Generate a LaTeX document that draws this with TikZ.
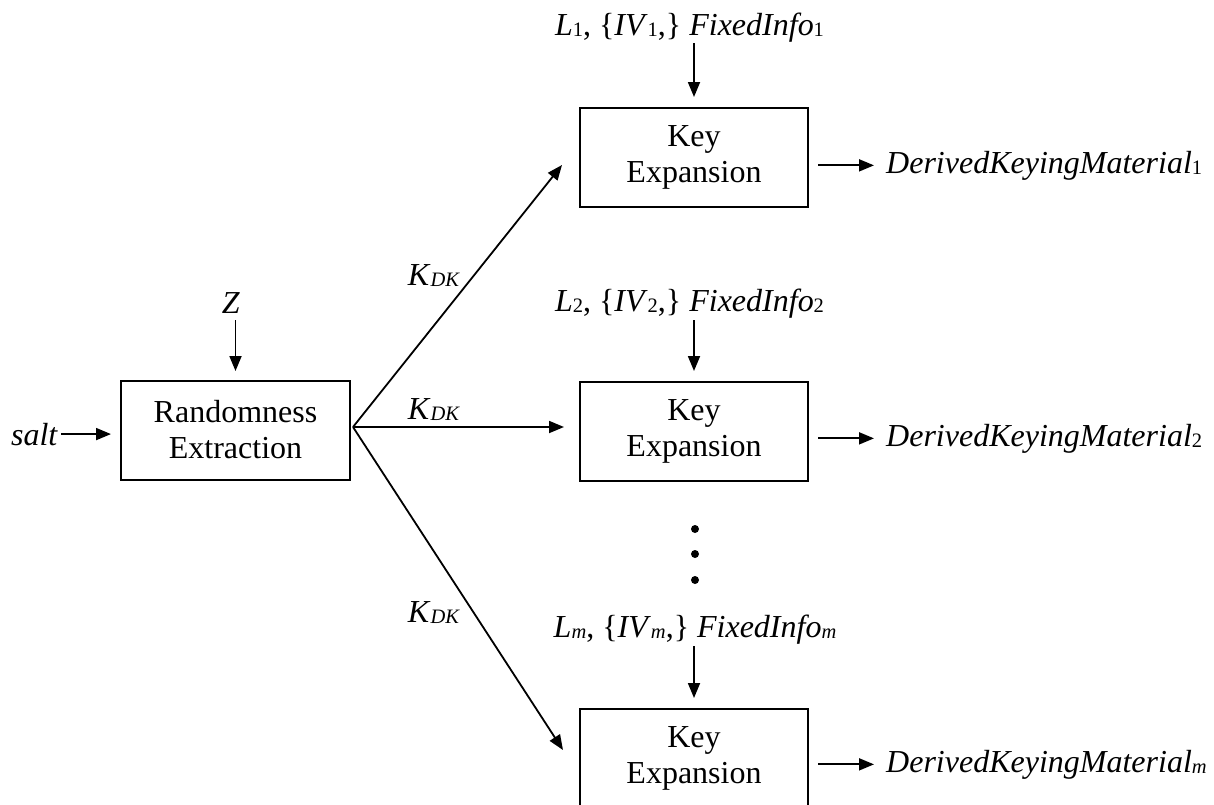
\documentclass[tikz,border=0pt]{standalone}
\usepackage{fontspec}
\setmainfont{Liberation Serif}
\usetikzlibrary{arrows.meta}
\newcommand{\ssub}[1]{{\fontsize{20.5}{20.5}\selectfont\raisebox{-1.5pt}{#1}}}
\begin{document}
\begin{tikzpicture}[x=1pt,y=-1pt,
  every node/.style={font=\fontsize{32}{36}\selectfont, inner sep=0pt},
  procbox/.style={draw, line width=2pt, minimum width=228pt, minimum height=99pt, align=center},
  arr/.style={line width=1.8pt, -{Triangle[length=15pt,width=12pt]}},
  lbl/.style={anchor=base}]
\useasboundingbox (0,0) rectangle (1214,804);
\clip (0,0) rectangle (1214,804);
\fill[white] (0,0) rectangle (1214,804);

% boxes
\node[procbox, minimum width=229pt] (re) at (235.5,430) {Randomness\\Extraction};
\node[procbox] (k1) at (694,157.5) {Key\\Expansion};
\node[procbox] (k2) at (694,431) {Key\\Expansion};
\node[procbox] (km) at (694,758.5) {Key\\Expansion};

% input labels
\node[lbl] (z) at (231,313) {\textit{Z}};
\node[lbl] (salt) at (34.5,445) {\textit{salt}};
\node[lbl] (t1) at (689.5,35) {\textit{L}\ssub{1}, \{\textit{IV}\ssub{1},\} \textit{FixedInfo}\ssub{1}};
\node[lbl] (t2) at (689.5,311) {\textit{L}\ssub{2}, \{\textit{IV}\ssub{2},\} \textit{FixedInfo}\ssub{2}};
\node[lbl] (tm) at (695,637) {\textit{L}\ssub{\textit{m}}, \{\textit{IV}\ssub{\textit{m}},\} \textit{FixedInfo}\ssub{\textit{m}}};

% outputs
\node[anchor=base west] (o1) at (886,173) {\textit{DerivedKeyingMaterial}\ssub{1}};
\node[anchor=base west] (o2) at (886,446) {\textit{DerivedKeyingMaterial}\ssub{2}};
\node[anchor=base west] (om) at (886,772) {\textit{DerivedKeyingMaterial}\ssub{\textit{m}}};

% K_DK labels
\node[lbl] (kd1) at (434,285) {\textit{K}\ssub{\textit{DK}}};
\node[lbl] (kd2) at (434,419) {\textit{K}\ssub{\textit{DK}}};
\node[lbl] (kd3) at (434,622) {\textit{K}\ssub{\textit{DK}}};

% fork and arrow ends
\coordinate (fork) at (353,427);
\coordinate (e1) at ([xshift=-17pt,yshift=-7.5pt]k1.west);
\coordinate (em) at ([xshift=-16pt,yshift=8.5pt]km.west);

% connectors
\draw[arr, shorten <=7pt, shorten >=8.5pt] (re.north |- z.base) -- (re.north);
\draw[arr, shorten <=3pt, shorten >=9pt] (salt.east) -- (salt.east -| re.west);
\draw[arr, shorten <=8pt, shorten >=10pt] (k1.north |- t1.base) -- (k1.north);
\draw[arr, shorten <=9pt, shorten >=9.5pt] (k2.north |- t2.base) -- (k2.north);
\draw[arr, shorten <=9pt, shorten >=10pt] (km.north |- tm.base) -- (km.north);
\draw[arr] (fork) -- (e1);
\draw[arr, shorten >=15pt] (fork) -- (fork -| k2.west);
\draw[arr] (fork) -- (em);
\draw[arr, shorten <=9pt, shorten >=12pt] (o1.west -| k1.east) -- (o1.west);
\draw[arr, shorten <=9pt, shorten >=12pt] (o2.west -| k2.east) -- (o2.west);
\draw[arr, shorten <=9pt, shorten >=12pt] (om.west -| km.east) -- (om.west);

% ellipsis dots
\fill (695,529) circle (4pt);
\fill (695,554) circle (4pt);
\fill (695,580) circle (4pt);
\end{tikzpicture}
\end{document}
